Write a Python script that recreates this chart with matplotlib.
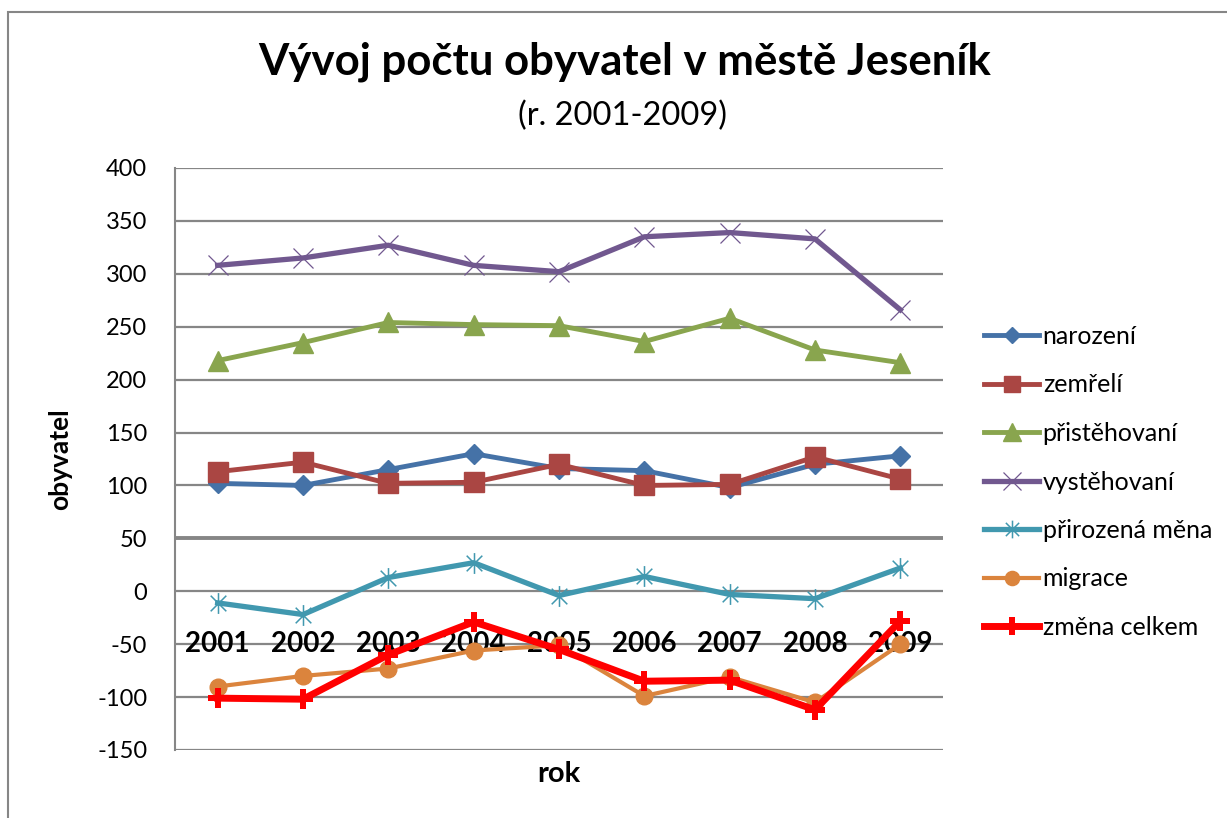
import matplotlib
matplotlib.use("Agg")
import matplotlib.pyplot as plt
from matplotlib.path import Path
from matplotlib.patches import Rectangle

plt.rcParams['font.family'] = ['Lato', 'DejaVu Sans']

years = ['2001', '2002', '2003', '2004', '2005', '2006', '2007', '2008', '2009']
narozeni = [102, 100, 115, 130, 116, 114, 98, 120, 128]
zemreli = [113, 122, 102, 103, 120, 100, 101, 127, 106]
pristehovani = [218, 235, 254, 252, 251, 236, 258, 228, 216]
vystehovani = [308, 315, 327, 308, 302, 335, 339, 333, 266]
prirozena_mena = [-11, -22, 13, 27, -4, 14, -3, -7, 22]
migrace = [-90, -80, -73, -56, -51, -99, -81, -105, -50]
zmena_celkem = [-101, -102, -60, -29, -55, -85, -84, -112, -28]

yticks = [-150, -100, -50, 0, 50, 100, 150, 200, 250, 300, 350, 400]

W, H = 1227, 818
fig = plt.figure(figsize=(W / 100, H / 100), dpi=100)

# outer chart border
fig.patches.append(Rectangle((8 / W, -0.01), 1.1, 1 - 12 / H + 0.01, transform=fig.transFigure,
                             fill=False, edgecolor='#868686', linewidth=1.5))

ax = fig.add_axes([175 / W, (H - 750) / H, (943 - 175) / W, (750 - 168) / H])
x = list(range(len(years)))

star = Path([(0, -1), (0, 1), (-0.75, -0.75), (0.75, 0.75), (-0.75, 0.75), (0.75, -0.75)],
            [Path.MOVETO, Path.LINETO, Path.MOVETO, Path.LINETO, Path.MOVETO, Path.LINETO])

ax.plot(x, narozeni, color='#4572A7', lw=3.5, marker='D', ms=10, label='narození', zorder=4)
ax.plot(x, zemreli, color='#AA4643', lw=3.5, marker='s', ms=14, label='zemřelí', zorder=4)
ax.plot(x, pristehovani, color='#89A54E', lw=3.5, marker='^', ms=15, label='přistěhovaní', zorder=4)
ax.plot(x, vystehovani, color='#71588F', lw=3.8, marker='x', ms=15, mew=0.9, label='vystěhovaní', zorder=4)
ax.plot(x, prirozena_mena, color='#4198AF', lw=3.8, marker=star, ms=15, mew=1.1, label='přirozená měna', zorder=4)
ax.plot(x, migrace, color='#DB843D', lw=3, marker='o', ms=12, label='migrace', zorder=4)
ax.plot(x, zmena_celkem, color='#FF0000', lw=5, marker='P', ms=15, mew=0, label='změna celkem', zorder=5)

ax.set_xlim(-0.5, len(years) - 0.5)
ax.set_ylim(-150, 400)
ax.set_yticks(yticks)
ax.set_yticklabels([str(v) for v in yticks])
for v in yticks:
    ax.axhline(v, color='#868686', lw=1.6 if v != 50 else 2.8, zorder=1)

for s in ['top', 'right', 'bottom']:
    ax.spines[s].set_visible(False)
ax.spines['left'].set_color('#868686')
ax.spines['left'].set_linewidth(1.5)

ax.tick_params(axis='y', length=0, pad=20, labelsize=17)
ax.set_xticks(x)
ax.set_xticklabels(years)
ax.tick_params(axis='x', length=0, pad=-86, labelsize=20)
for lab in ax.get_xticklabels():
    lab.set_fontweight('bold')
    lab.set_zorder(3)

ax.set_ylabel('obyvatel', fontsize=19, fontweight='bold', labelpad=18)
ax.set_xlabel('rok', fontsize=21, fontweight='bold', labelpad=8)

fig.text(625 / W, 1 - 62 / H, 'Vývoj počtu obyvatel v městě Jeseník', ha='center', va='center',
         fontsize=31.5, fontweight='bold')
fig.text(622 / W, 1 - 116 / H, '(r. 2001-2009)', ha='center', va='center', fontsize=23.5)

ax.legend(loc='center left', bbox_to_anchor=(984 / W, 1 - 482 / H), bbox_transform=fig.transFigure,
          frameon=False, fontsize=18, handlelength=2.2, handletextpad=0.15, labelspacing=1.02,
          borderaxespad=0, borderpad=0, markerscale=0.85)

fig.savefig('out.png', dpi=100)
